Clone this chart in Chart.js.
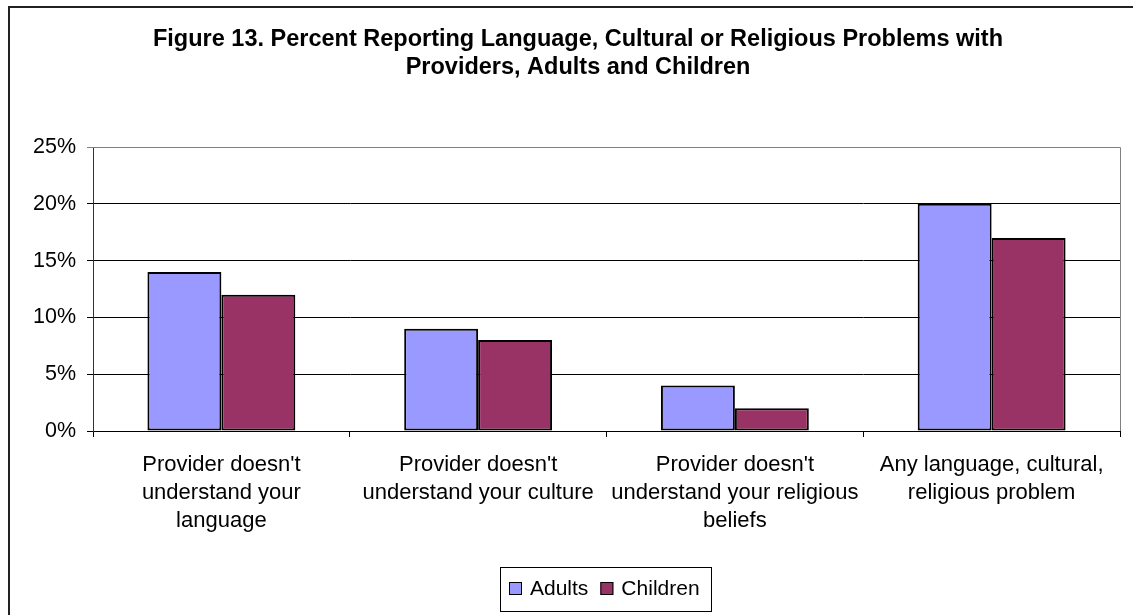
<!DOCTYPE html>
<html>
<head>
<meta charset="utf-8">
<title>Figure 13</title>
<script src="https://cdn.jsdelivr.net/npm/chart.js"></script>
<style>
    html, body { margin: 0; padding: 0; background: #fff; }
    canvas { display: block; }
</style>
</head>
<body>
<canvas id="chart" width="1133" height="615"></canvas>
<script>
    const titleLines = [
        'Figure 13. Percent Reporting Language, Cultural or Religious Problems with',
        'Providers, Adults and Children'
    ];
    const categories = [
        ["Provider doesn't", 'understand your', 'language'],
        ["Provider doesn't", 'understand your culture'],
        ["Provider doesn't", 'understand your religious', 'beliefs'],
        ['Any language, cultural,', 'religious problem']
    ];
    const adults = [14, 9, 4, 20];
    const children = [12, 8, 2, 17];
    const yTicks = [0, 5, 10, 15, 20, 25];

    const FONT = 'Arial, "Liberation Sans", sans-serif';

    // outer frame, title and boxed legend
    const frame = {
        id: 'frame',
        afterDraw(chart) {
            const ctx = chart.ctx;
            const area = chart.chartArea;
            ctx.save();

            // plot area border (top and right, grey)
            ctx.strokeStyle = '#808080';
            ctx.lineWidth = 1;
            ctx.beginPath();
            ctx.moveTo(area.left, area.top + 0.5);
            ctx.lineTo(area.right + 0.5, area.top + 0.5);
            ctx.lineTo(area.right + 0.5, area.bottom);
            ctx.stroke();

            // chart frame, runs off the right and bottom edges
            ctx.strokeStyle = '#222';
            ctx.lineWidth = 2;
            ctx.beginPath();
            ctx.moveTo(9, chart.height + 2);
            ctx.lineTo(9, 7);
            ctx.lineTo(chart.width + 2, 7);
            ctx.stroke();

            // title
            ctx.fillStyle = '#000';
            ctx.font = 'bold 23.5px ' + FONT;
            ctx.textAlign = 'center';
            ctx.textBaseline = 'alphabetic';
            titleLines.forEach((line, i) => ctx.fillText(line, 578, 46 + i * 28));

            // legend
            const lx = 500, ly = 567, lw = 211, lh = 44;
            ctx.strokeStyle = '#000';
            ctx.lineWidth = 1;
            ctx.strokeRect(lx + 0.5, ly + 0.5, lw, lh);
            ctx.font = '21px ' + FONT;
            ctx.textAlign = 'left';
            let x = lx + 9;
            chart.data.datasets.forEach(ds => {
                ctx.fillStyle = ds.backgroundColor;
                ctx.fillRect(x, 582, 13, 13);
                ctx.strokeStyle = '#000';
                ctx.strokeRect(x + 0.5, 582.5, 12, 12);
                ctx.fillStyle = '#000';
                ctx.fillText(ds.label, x + 21, 595);
                x += 21 + ctx.measureText(ds.label).width + 12;
            });
            ctx.restore();
        }
    };

    new Chart(document.getElementById('chart'), {
        type: 'bar',
        data: {
            labels: categories,
            datasets: [{
                label: 'Adults',
                data: adults,
                backgroundColor: '#9999FF',
                borderColor: '#000',
                borderWidth: 2,
                borderSkipped: false
            }, {
                label: 'Children',
                data: children,
                backgroundColor: '#993366',
                borderColor: '#000',
                borderWidth: 2,
                borderSkipped: false
            }]
        },
        options: {
            responsive: false,
            animation: false,
            devicePixelRatio: 1,
            categoryPercentage: 0.576,
            barPercentage: 1,
            layout: { padding: { top: 147, right: 13, left: 0, bottom: 0 } },
            plugins: {
                legend: { display: false },
                title: { display: false },
                tooltip: { enabled: false }
            },
            scales: {
                x: {
                    afterFit(scale) { scale.height = 184; },
                    grid: {
                        offset: true,
                        drawOnChartArea: false,
                        drawTicks: true,
                        tickLength: 6,
                        color: '#000'
                    },
                    border: { color: '#000', width: 1 },
                    ticks: {
                        color: '#000',
                        font: { family: FONT, size: 22, lineHeight: 1.28 },
                        padding: 14,
                        maxRotation: 0,
                        autoSkip: false
                    }
                },
                y: {
                    min: 0,
                    max: 25,
                    afterFit(scale) { scale.width = 93; },
                    afterBuildTicks(scale) {
                        scale.ticks = yTicks.map(v => ({ value: v }));
                    },
                    grid: {
                        color: ctx => ctx.tick && ctx.tick.value === 25 ? '#808080' : '#000',
                        tickLength: 6,
                        lineWidth: 1
                    },
                    border: { color: '#333', width: 1 },
                    ticks: {
                        color: '#000',
                        font: { family: FONT, size: 21.5 },
                        padding: 11,
                        callback: v => v + '%'
                    }
                }
            }
        },
        plugins: [frame]
    });
</script>
</body>
</html>
